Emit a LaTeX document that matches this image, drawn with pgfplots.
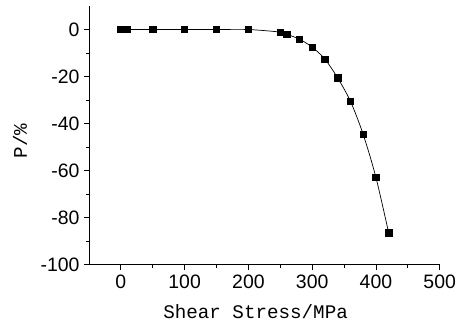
\documentclass[border=0pt]{standalone}
\usepackage{fontspec}
\setmainfont{Liberation Sans}
\newfontfamily\labfont{Liberation Mono}
\usepackage{pgfplots}
\pgfplotsset{compat=1.18}
\begin{document}
\begin{tikzpicture}
\begin{axis}[
  at={(0,0)}, anchor=south west,
  scale only axis,
  width=350.7bp, height=258.7bp,
  xmin=-50, xmax=500, ymin=-100, ymax=10,
  axis x line*=bottom, axis y line*=left,
  axis line style={line width=0.8pt},
  xtick={0,100,200,300,400,500},
  ytick={-100,-80,-60,-40,-20,0},
  minor x tick num=1, minor y tick num=1,
  tick align=outside,
  major tick length=5bp, minor tick length=3bp,
  tick style={line width=0.8pt, black},
  /pgf/number format/assume math mode=true,
  ticklabel style={font=\fontsize{19.5}{22}\selectfont},
  xticklabel style={yshift=-2bp},
  yticklabel style={xshift=-1bp},
  xlabel={\labfont\fontsize{19.3}{22}\selectfont Shear Stress/MPa},
  xlabel style={at={(axis description cs:0.475,0)}, anchor=base, yshift=-54bp},
  clip=false,
]
\addplot[black, line width=0.7pt, smooth, tension=0.5, mark=square*, mark size=3.2bp, mark options={solid, fill=black}]
coordinates {
(0,0) (5,0) (10,0) (50,0) (100,0) (150,0) (200,0)
(250,-1.1) (260,-2.0) (280,-4.1) (300,-7.5) (320,-12.6)
(340,-20.6) (360,-30.5) (380,-44.6) (400,-62.9) (420,-86.5)
};
\node[rotate=90, anchor=center, font=\labfont\fontsize{19.3}{22}\selectfont] at (rel axis cs:-0.197,0.478) {P/\%};
\end{axis}
\pgfresetboundingbox
\path (-89bp,-63.3bp) rectangle (368bp,264.7bp);
\end{tikzpicture}
\end{document}
